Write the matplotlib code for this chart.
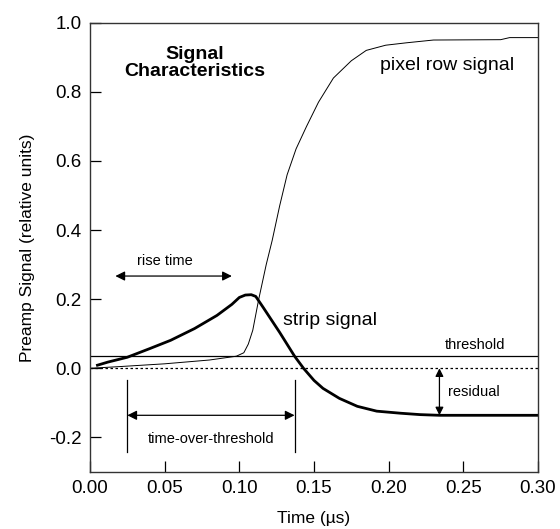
import matplotlib
matplotlib.use("Agg")
import matplotlib.pyplot as plt

plt.rcParams['font.family'] = ['Liberation Sans', 'DejaVu Sans']

# --- datos ---
strip_t = [0.005, 0.012, 0.025, 0.040, 0.054, 0.070, 0.085, 0.095, 0.100, 0.104,
           0.108, 0.111, 0.116, 0.127, 0.137, 0.143, 0.150, 0.156, 0.167, 0.179,
           0.192, 0.208, 0.221, 0.234, 0.26, 0.30]
strip_v = [0.009, 0.018, 0.032, 0.057, 0.081, 0.115, 0.153, 0.185, 0.205, 0.212,
           0.213, 0.208, 0.176, 0.104, 0.035, 0.0, -0.035, -0.058, -0.087, -0.110,
           -0.124, -0.130, -0.134, -0.136, -0.136, -0.136]

pixel_t = [0.0, 0.02, 0.05, 0.08, 0.098, 0.103, 0.106, 0.109, 0.113, 0.118,
           0.122, 0.127, 0.132, 0.138, 0.145, 0.153, 0.163, 0.175, 0.185, 0.198,
           0.212, 0.23, 0.275, 0.281, 0.30]
pixel_v = [0.0, 0.005, 0.013, 0.024, 0.035, 0.045, 0.07, 0.11, 0.20, 0.30,
           0.37, 0.47, 0.56, 0.635, 0.70, 0.77, 0.84, 0.89, 0.92, 0.935,
           0.942, 0.95, 0.951, 0.957, 0.957]

threshold = 0.035
residual = -0.136
tot_start, tot_end = 0.025, 0.137
rise_start, rise_end = 0.017, 0.095

fig = plt.figure(figsize=(5.6, 5.29), dpi=100)
ax = fig.add_axes([0.1607, 0.1078, 0.8, 0.8492])

ax.plot(pixel_t, pixel_v, color='black', lw=0.7)
ax.plot(strip_t, strip_v, color='black', lw=2.0, solid_joinstyle='round')
ax.axhline(threshold, color='black', lw=0.9)
ax.axhline(0.0, color='black', lw=0.9, ls=(0, (2, 2)))

# flechas
arr = dict(arrowstyle='<|-|>', color='black', lw=0.9, mutation_scale=14, shrinkA=0, shrinkB=0)
ax.annotate('', xy=(rise_start, 0.267), xytext=(rise_end, 0.267), arrowprops=arr)
ax.text(0.05, 0.29, 'rise time', ha='center', va='bottom', fontsize=10.5)

ax.plot([tot_start, tot_start], [-0.035, -0.243], color='black', lw=0.9)
ax.plot([tot_end, tot_end], [-0.035, -0.243], color='black', lw=0.9)
ax.annotate('', xy=(tot_start, -0.136), xytext=(tot_end, -0.136), arrowprops=arr)
ax.text(0.081, -0.205, 'time-over-threshold', ha='center', va='center', fontsize=10.5)

ax.annotate('', xy=(0.234, 0.0), xytext=(0.234, residual),
            arrowprops=dict(arrowstyle='<|-|>', color='black', lw=0.9, mutation_scale=12,
                            shrinkA=0, shrinkB=0))
ax.text(0.258, 0.067, 'threshold', ha='center', va='center', fontsize=10.5)
ax.text(0.257, -0.07, 'residual', ha='center', va='center', fontsize=10.5)

ax.text(0.129, 0.139, 'strip signal', ha='left', va='center', fontsize=14)
ax.text(0.194, 0.877, 'pixel row signal', ha='left', va='center', fontsize=14)
ax.text(0.07, 0.884, 'Signal\nCharacteristics', ha='center', va='center',
        fontsize=14, fontweight='bold', linespacing=0.95)

ax.set_xlim(0.0, 0.30)
ax.set_ylim(-0.3, 1.0)
ax.set_xticks([0.0, 0.05, 0.10, 0.15, 0.20, 0.25, 0.30])
ax.set_xticklabels(['0.00', '0.05', '0.10', '0.15', '0.20', '0.25', '0.30'])
ax.set_yticks([-0.2, 0.0, 0.2, 0.4, 0.6, 0.8, 1.0])
ax.set_yticklabels(['-0.2', '0.0', '0.2', '0.4', '0.6', '0.8', '1.0'])
ax.tick_params(direction='in', length=8, width=0.9, labelsize=13.5, pad=6)
for s in ax.spines.values():
    s.set_linewidth(1.0)
    s.set_color('#333333')

ax.set_xlabel('Time (µs)', fontsize=12.5, labelpad=10)
ax.set_ylabel('Preamp Signal (relative units)', fontsize=12.5, labelpad=10)

fig.savefig('out.png', dpi=100)
